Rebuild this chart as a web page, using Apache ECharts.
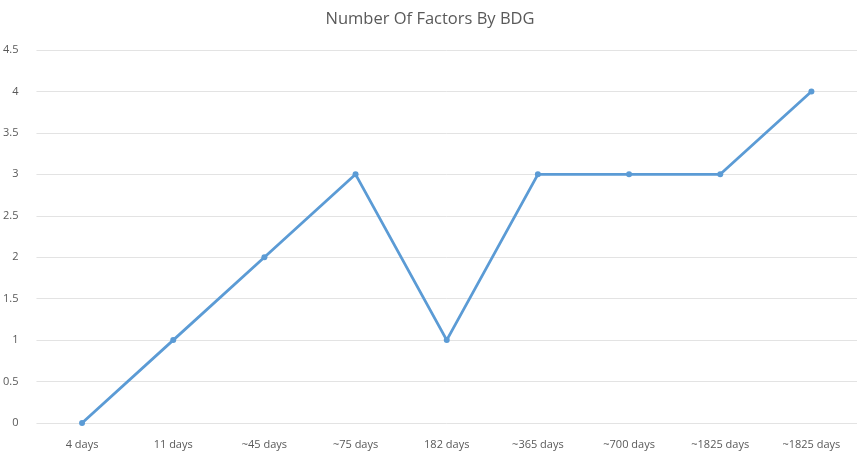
<!DOCTYPE html>
<html>
<head>
<meta charset="utf-8">
<script src="https://cdn.jsdelivr.net/npm/echarts@6/dist/echarts.min.js"></script>
<style>html,body{margin:0;padding:0;background:#fff;}#c{width:860px;height:456px;}</style>
</head>
<body>
<div id="c"></div>
<script>
const categories = ['4 days','11 days','~45 days','~75 days','182 days','~365 days','~700 days','~1825 days','~1825 days'];
const values = [0, 1, 2, 3, 1, 3, 3, 3, 4];
const titleText = 'Number Of Factors By BDG';
const FONT = '"Open Sans", sans-serif';

const chart = echarts.init(document.getElementById('c'), null, {renderer: 'canvas'});
chart.setOption({
  animation: false,
  backgroundColor: '#ffffff',
  title: {
    text: titleText,
    left: 'center',
    top: 6,
    textStyle: {fontFamily: FONT, fontSize: 16.5, fontWeight: 'normal', color: '#595959'}
  },
  grid: {left: 34, right: 3, top: 50, bottom: 33, containLabel: false},
  xAxis: {
    type: 'category',
    data: categories,
    boundaryGap: true,
    axisLine: {show: false},
    axisTick: {show: false},
    axisLabel: {fontFamily: FONT, fontSize: 11, color: '#595959', margin: 16, interval: 0}
  },
  yAxis: {
    type: 'value',
    min: 0, max: 4.5, interval: 0.5,
    axisLine: {show: false},
    axisTick: {show: false},
    axisLabel: {fontFamily: FONT, fontSize: 11, color: '#595959', margin: 18,
      formatter: v => String(v)},
    splitLine: {lineStyle: {color: '#e3e3e3', width: 1}}
  },
  series: [{
    type: 'line',
    data: values,
    symbol: 'circle',
    symbolSize: 6,
    lineStyle: {color: '#5b9bd5', width: 2.8},
    itemStyle: {color: '#5b9bd5'}
  }]
});
</script>
</body>
</html>
